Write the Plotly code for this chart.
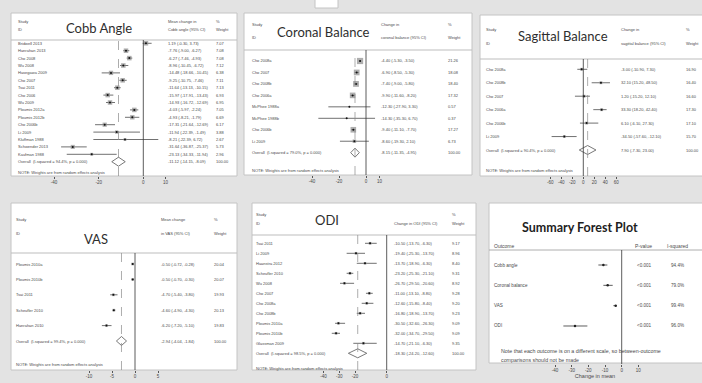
import plotly.graph_objects as go

W, H = 702, 383
BG = "#e3e3e3"
TXT = "#4a4a4a"
SANS = "Liberation Sans, Arial, sans-serif"
TITLE_FONT = "Lato, Open Sans, sans-serif"

# ---------------- data ----------------
# Cobb angle
cobb_studies = ["Bridwell 2013", "Hanrahan 2013", "Cho 2008", "Wu 2008", "Hasegawa 2009",
                "Cho 2007", "Tsai 2011", "Cho 2006", "Wu 2009", "Ploumis 2012a", "Ploumis 2012b",
                "Cho 2006b", "Li 2009", "Kluffman 1988", "Schwender 2013", "Kaufman 1988"]
cobb_est = [1.19, -7.76, -6.27, -8.96, -14.48, -9.25, -11.64, -15.97, -14.93, -4.03, -4.93,
            -17.31, -11.94, -8.21, -31.64, -23.13]
cobb_lo = [-0.30, -9.00, -7.46, -10.45, -18.66, -10.75, -13.13, -17.91, -16.72, -5.97, -8.21,
           -21.64, -22.39, -22.39, -36.87, -34.33]
cobb_hi = [3.73, -6.27, -4.93, -6.72, -10.45, -7.46, -10.15, -13.43, -12.69, -2.24, -1.79,
           -12.69, -1.49, 6.72, -25.37, -11.94]
cobb_wt = [7.07, 7.08, 7.08, 7.12, 6.38, 7.11, 7.13, 6.93, 6.95, 7.05, 6.69, 6.17, 3.88, 2.67,
           5.73, 2.96]
cobb_overall = [-11.12, -14.15, -8.09]
cobb_isq = "94.4%"

# Coronal balance
cor_studies = ["Cho 2008a", "Cho 2007", "Cho 2008b", "Cho 2006a", "McPhee 1988a",
               "McPhee 1988b", "Cho 2006b", "Li 2009"]
cor_est = [-4.40, -6.90, -7.40, -9.90, -12.30, -14.30, -9.40, -8.60]
cor_lo = [-5.30, -8.50, -9.00, -11.60, -27.90, -35.30, -11.10, -19.30]
cor_hi = [-3.50, -5.30, -5.80, -8.20, 3.30, 6.70, -7.70, 2.10]
cor_wt = [21.26, 18.08, 18.40, 17.32, 0.57, 0.37, 17.27, 6.73]
cor_overall = [-8.15, -11.35, -4.95]
cor_isq = "79.0%"

# Sagittal balance
sag_studies = ["Cho 2008a", "Cho 2008b", "Cho 2007", "Cho 2006a", "Cho 2006b", "Li 2009"]
sag_est = [-3.00, 32.10, 1.20, 33.30, 6.10, -34.50]
sag_lo = [-10.90, 15.20, -15.20, 18.20, -6.10, -57.60]
sag_hi = [7.30, 48.50, 12.10, 42.40, 27.30, -12.10]
sag_wt = [16.90, 16.40, 16.60, 17.30, 17.10, 15.70]
sag_overall = [7.90, -7.30, 23.00]
sag_isq = "90.4%"

# VAS
vas_studies = ["Ploumis 2010a", "Ploumis 2010b", "Tsai 2011", "Scheufler 2010", "Hanrahan 2010"]
vas_est = [-0.50, -0.50, -4.70, -4.60, -6.20]
vas_lo = [-0.72, -0.70, -5.40, -4.90, -7.20]
vas_hi = [-0.28, -0.30, -3.80, -4.30, -5.10]
vas_wt = [20.04, 20.07, 19.93, 20.13, 19.83]
vas_overall = [-2.94, -4.04, -1.84]
vas_isq = "99.4%"

# ODI
odi_studies = ["Tsai 2011", "Li 2009", "Haanstra 2012", "Scheufler 2010", "Wu 2008", "Cho 2007",
               "Cho 2008a", "Cho 2008b", "Ploumis 2010a", "Ploumis 2010b", "Glassman 2009"]
odi_est = [-10.50, -19.40, -13.70, -23.20, -26.70, -11.00, -12.60, -16.80, -30.50, -32.00, -14.70]
odi_lo = [-13.70, -25.30, -18.90, -25.30, -29.50, -13.10, -15.80, -18.90, -32.60, -34.70, -21.10]
odi_hi = [-6.30, -13.70, -6.30, -21.10, -20.60, -8.80, -8.40, -13.70, -26.30, -29.50, -6.30]
odi_wt = [9.17, 8.96, 8.40, 9.31, 8.92, 9.28, 9.20, 9.23, 9.09, 9.09, 9.35]
odi_overall = [-18.30, -24.20, -12.60]
odi_isq = "98.5%"

# Summary
sum_outcomes = ["Cobb angle", "Coronal balance", "VAS", "ODI"]
sum_est = [-11.0, -8.4, -3.6, -28.0]
sum_lo = [-14.0, -11.0, -5.0, -35.0]
sum_hi = [-8.6, -5.4, -3.0, -20.6]
sum_p = ["<0.001", "<0.001", "<0.001", "<0.001"]
sum_isq = ["94.4%", "79.0%", "99.4%", "96.0%"]

# ---------------- layout helpers ----------------
fig = go.Figure()
shapes = []


def fx(p):
    return p / W


def fy(p):
    return 1 - p / H


def text(t, x, y, yref="paper", size=4, anchor="left", color=TXT, family=SANS, xa="left"):
    fig.add_annotation(text=t, x=fx(x), y=(fy(y) if yref == "paper" else y), xref="paper",
                       yref=yref, showarrow=False, xanchor=anchor, yanchor="middle",
                       font=dict(size=size, color=color, family=family), borderpad=0)


def panel_rect(x0, y0, x1, y1):
    shapes.append(dict(type="rect", xref="paper", yref="paper", x0=fx(x0), x1=fx(x1),
                       y0=fy(y1), y1=fy(y0), fillcolor="white",
                       line=dict(color="#c4c4c4", width=1), layer="below"))


def hline(x0, x1, y, color="#bdbdbd", width=1):
    shapes.append(dict(type="line", xref="paper", yref="paper", x0=fx(x0), x1=fx(x1),
                       y0=fy(y), y1=fy(y), line=dict(color=color, width=width)))


def setup_axes(k, xdom, zero, scale, ydom, r0, dr, ticks, title=None):
    sfx = "" if k == 1 else str(k)
    xd0, xd1 = xdom
    ytop, ybot = ydom
    xa = dict(domain=[fx(xd0), fx(xd1)], range=[(xd0 - zero) / scale, (xd1 - zero) / scale],
              anchor="y" + sfx, tickvals=ticks, ticktext=[str(t) for t in ticks],
              ticks="outside", ticklen=2, tickwidth=0.6, tickcolor="#555",
              tickfont=dict(size=4.5, color=TXT, family=SANS), showgrid=False,
              zeroline=False, showline=False, fixedrange=True)
    if title:
        xa["title"] = dict(text=title, font=dict(size=5.5, color=TXT, family=SANS), standoff=1)
    fig.update_layout(**{
        "xaxis" + sfx: xa,
        "yaxis" + sfx: dict(domain=[fy(ybot), fy(ytop)], range=[(ybot - r0) / dr, (ytop - r0) / dr],
                            anchor="x" + sfx, visible=False, fixedrange=True),
    })
    return "x" + sfx, "y" + sfx


def vline(xref, yref, xval, dash="solid", color="#333", width=0.8):
    shapes.append(dict(type="line", xref=xref, yref=yref + " domain", x0=xval, x1=xval,
                       y0=0, y1=1, line=dict(color=color, width=width, dash=dash)))


def fmt(e, l, h):
    return f"{e:.2f} ({l:.2f}, {h:.2f})"


def forest(k, box, sep, xdom, zero, scale, r0, dr, ticks, names, est, lo, hi, wt, overall, isq,
           title, title_xy, title_size, hdr, name_x, val_x, wt_x, note_y, box_k):
    x0, y0, x1, y1 = box
    panel_rect(x0, y0, x1, y1)
    hline(x0, x1, sep)
    xr, yr = setup_axes(k, xdom, zero, scale, (sep, y1), r0, dr, ticks)
    n = len(names)
    rows = list(range(n))
    oe, ol, oh = overall

    vline(xr, yr, 0)
    vline(xr, yr, oe, dash="dash", color="#8a8a8a", width=0.7)

    fig.add_trace(go.Scatter(
        x=est, y=rows, xaxis=xr, yaxis=yr, mode="markers", showlegend=False, hoverinfo="skip",
        marker=dict(symbol="square", size=[box_k * w ** 0.5 for w in wt], color="#8c8c8c",
                    line=dict(width=0)),
        error_x=dict(type="data", symmetric=False, array=[h - e for e, h in zip(est, hi)],
                     arrayminus=[e - l for e, l in zip(est, lo)], thickness=0.7, width=0,
                     color="#333")))
    fig.add_trace(go.Scatter(x=est, y=rows, xaxis=xr, yaxis=yr, mode="markers",
                             showlegend=False, hoverinfo="skip",
                             marker=dict(size=2, color="#111")))
    hh = 4.5 / dr
    fig.add_trace(go.Scatter(x=[ol, oe, oh, oe, ol], y=[n, n - hh, n, n + hh, n], xaxis=xr,
                             yaxis=yr, mode="lines", showlegend=False, hoverinfo="skip",
                             line=dict(color="#555", width=0.8)))

    text(title, title_xy[0], title_xy[1], size=title_size, anchor="center", color="#2e2e2e",
         family=TITLE_FONT)
    for t, hx, hy in hdr:
        text(t, hx, hy)
    for i, nm in enumerate(names):
        text(nm, name_x, i, yref=yr)
        text(fmt(est[i], lo[i], hi[i]), val_x, i, yref=yr)
        text(f"{wt[i]:.2f}", wt_x, i, yref=yr)
    text(f"Overall  (I-squared = {isq}, p = 0.000)", name_x, n, yref=yr)
    text(fmt(oe, ol, oh), val_x, n, yref=yr)
    text("100.00", wt_x, n, yref=yr)
    text("NOTE: Weights are from random effects analysis", name_x, note_y)


# ---------------- panels ----------------
forest(1, (11, 13, 237, 176), 40, (45, 190), 143.3, 2.23, 43.3, 7.4, [-40, -20, 0, 10],
       cobb_studies, cobb_est, cobb_lo, cobb_hi, cobb_wt, cobb_overall, cobb_isq,
       "Cobb Angle", (99, 28), 13,
       [("Study", 17, 21), ("ID", 17, 30), ("Mean change in", 167, 21),
        ("Cobb angle (95% CI)", 167, 30), ("%", 215, 21), ("Weight", 215, 30)],
       17, 167, 215, 172, 1.7)

forest(2, (244, 13, 472, 175), 50, (300, 385), 366, 1.35, 61, 11.46, [-40, -20, 0, 10],
       cor_studies, cor_est, cor_lo, cor_hi, cor_wt, cor_overall, cor_isq,
       "Coronal Balance", (323, 32), 13,
       [("Study", 251, 25), ("ID", 251, 37), ("Change in", 380, 25),
        ("coronal balance (95% CI)", 380, 37), ("%", 447, 25), ("Weight", 447, 37)],
       251, 380, 447, 170, 1.35)

forest(3, (480, 15, 703, 176), 59, (540, 630), 583.3, 0.55, 69.3, 13.45,
       [-60, -40, -20, 0, 20, 40, 60],
       sag_studies, sag_est, sag_lo, sag_hi, sag_wt, sag_overall, sag_isq,
       "Sagittal Balance", (563, 36), 13,
       [("Study", 485, 29), ("ID", 485, 43), ("Change in", 620, 29),
        ("sagittal balance (95% CI)", 620, 43), ("%", 685, 29), ("Weight", 685, 43)],
       485, 620, 685, 170, 0.7)

forest(4, (11, 203, 237, 370), 253, (75, 170), 135, 4.6, 264, 15.4, [-10, -5, 0, 5],
       vas_studies, vas_est, vas_lo, vas_hi, vas_wt, vas_overall, vas_isq,
       "VAS", (96, 239), 13,
       [("Study", 15, 219), ("ID", 15, 233), ("Mean change", 160, 219),
        ("in VAS (95% CI)", 160, 233), ("%", 213, 219), ("Weight", 213, 233)],
       15, 160, 213, 364, 0.6)

forest(5, (252, 203, 476, 370), 235, (300, 392), 386.7, 1.583, 243.3, 10,
       [-40, -30, -20, 0],
       odi_studies, odi_est, odi_lo, odi_hi, odi_wt, odi_overall, odi_isq,
       "ODI", (327, 220), 13,
       [("Study", 255, 214), ("ID", 255, 223), ("Change in ODI (95% CI)", 393, 223),
        ("%", 451, 214), ("Weight", 451, 223)],
       255, 393, 451, 368, 0.9)

# Summary forest plot
panel_rect(489, 203, 703, 363)
hline(489, 703, 250, color="#9a9a9a", width=0.8)
xs, ys = setup_axes(6, (550, 640), 621.7, 1.667, (250, 364), 265, 20.33,
                    [-40, -30, -20, -10, 0, 10], title="Change in mean")
vline(xs, ys, 0)
srows = list(range(len(sum_outcomes)))
fig.add_trace(go.Scatter(
    x=sum_est, y=srows, xaxis=xs, yaxis=ys, mode="markers", showlegend=False, hoverinfo="skip",
    marker=dict(size=2.5, color="#222"),
    error_x=dict(type="data", symmetric=False, array=[h - e for e, h in zip(sum_est, sum_hi)],
                 arrayminus=[e - l for e, l in zip(sum_est, sum_lo)], thickness=0.8, width=0,
                 color="#333")))
text("<b>Summary Forest Plot</b>", 580, 227, size=12.5, anchor="center", color="#1e1e1e",
     family=TITLE_FONT)
text("Outcome", 493, 246, size=5)
text("P-value", 643, 246, size=5, anchor="center")
text("I-squared", 677, 246, size=5, anchor="center")
for i, o in enumerate(sum_outcomes):
    text(o, 493, i, yref=ys, size=4.6)
    text(sum_p[i], 644, i, yref=ys, size=4.6, anchor="center")
    text(sum_isq[i], 677, i, yref=ys, size=4.6, anchor="center")
text("Note that each outcome is on a different scale, so between-outcome", 500, 351, size=5.3)
text("comparisons should not be made", 500, 360, size=5.3)

# small tab above the coronal panel
shapes.append(dict(type="rect", xref="paper", yref="paper", x0=fx(315), x1=fx(338), y0=fy(8),
                   y1=fy(-2), fillcolor="white", line=dict(color="#c4c4c4", width=1),
                   layer="below"))

fig.update_layout(width=W, height=H, margin=dict(l=0, r=0, t=0, b=0),
                  paper_bgcolor=BG, plot_bgcolor="rgba(0,0,0,0)", shapes=shapes,
                  showlegend=False)

fig.write_html("out.html")
